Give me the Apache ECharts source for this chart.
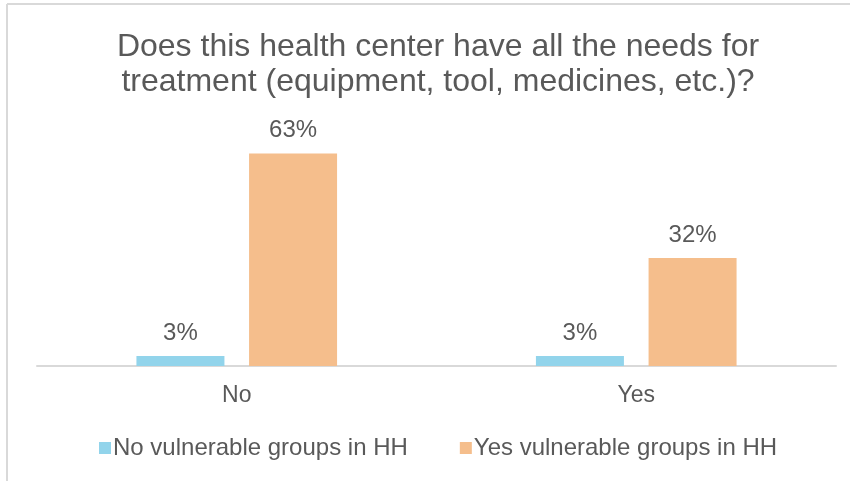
<!DOCTYPE html>
<html>
<head>
<meta charset="utf-8">
<script src="https://cdn.jsdelivr.net/npm/echarts@6/dist/echarts.min.js"></script>
<style>
  html, body { margin: 0; padding: 0; background: #fff; }
  #chart { width: 850px; height: 481px; }
</style>
</head>
<body>
<div id="chart"></div>
<script>
// Svar per kategori, andel (%) per grupp
const categories = ['No', 'Yes']
const seriesNames = ['No vulnerable groups in HH', 'Yes vulnerable groups in HH']
const noVulnerable = [3, 3]
const yesVulnerable = [63, 32]
const colors = ['#92d4eb', '#f5be8c']

const font = '"Liberation Sans", Arial, sans-serif'
const txt = '#595959'
const chart = echarts.init(document.getElementById('chart'))

const label = {
  show: true, position: 'top', distance: 11, formatter: p => p.value + '%',
  color: txt, fontSize: 24, fontFamily: font
}

chart.setOption({
  animation: false,
  title: {
    text: 'Does this health center have all the needs for\ntreatment (equipment, tool, medicines, etc.)?',
    left: 433, top: 25, textAlign: 'center',
    textStyle: { color: txt, fontSize: 32, fontWeight: 'normal', fontFamily: font, lineHeight: 35 }
  },
  graphic: [
    { type: 'line', shape: { x1: 7, y1: 4, x2: 7, y2: 481 }, style: { stroke: '#d9d9d9', lineWidth: 2 } },
    { type: 'line', shape: { x1: 7, y1: 4, x2: 850, y2: 4 }, style: { stroke: '#d9d9d9', lineWidth: 2 } }
  ],
  legend: {
    bottom: 16, left: 94, itemWidth: 12, itemHeight: 12, itemGap: 52,
    icon: 'rect',
    textStyle: { color: txt, fontSize: 24, fontFamily: font, padding: [0, 0, 0, -3] }
  },
  grid: { left: 37, right: 14, top: 130, bottom: 115 },
  xAxis: {
    type: 'category', data: categories,
    axisLine: { lineStyle: { color: '#d9d9d9', width: 2 } },
    axisTick: { show: false },
    axisLabel: { color: txt, fontSize: 23, fontFamily: font, margin: 18 }
  },
  yAxis: { type: 'value', min: 0, max: 70, show: false, splitLine: { show: false } },
  series: [
    { name: seriesNames[0], type: 'bar', data: noVulnerable, barWidth: 88, barGap: '28%',
      itemStyle: { color: colors[0] }, label },
    { name: seriesNames[1], type: 'bar', data: yesVulnerable, barWidth: 88,
      itemStyle: { color: colors[1] }, label }
  ]
})
</script>
</body>
</html>
